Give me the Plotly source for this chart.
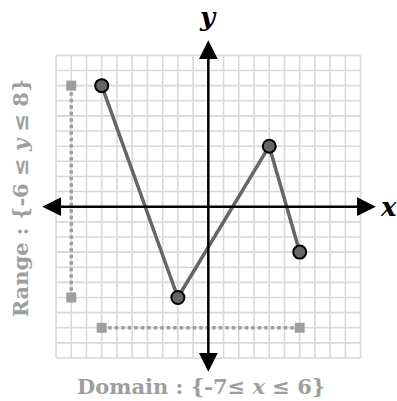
import plotly.graph_objects as go

# data
xs = [-7, -2, 4, 6]
ys = [8, -6, 4, -3]
domain_x = [-7, 6]
domain_y = [-8, -8]
range_x = [-9, -9]
range_y = [8, -6]
grid_vals = list(range(-10, 11))
axis_lim = 11

fig = go.Figure()

# grid
gx, gy = [], []
for v in grid_vals:
    gx += [v, v, None]
    gy += [grid_vals[0], grid_vals[-1], None]
    gx += [grid_vals[0], grid_vals[-1], None]
    gy += [v, v, None]
fig.add_trace(go.Scatter(x=gx, y=gy, mode="lines", line=dict(color="#d9d9d9", width=1.6),
                         hoverinfo="skip", showlegend=False))

guide_col = "#9e9e9e"
# range / domain guides
for gxs, gys in [(range_x, range_y), (domain_x, domain_y)]:
    fig.add_trace(go.Scatter(x=gxs, y=gys, mode="lines",
                             line=dict(color=guide_col, width=3.5, dash="3.5px,3px"),
                             showlegend=False))
    fig.add_trace(go.Scatter(x=gxs, y=gys, mode="markers",
                             marker=dict(symbol="square", size=10, color=guide_col),
                             showlegend=False))

# axes with arrows
for (x0, y0, x1, y1) in [(-axis_lim, 0, axis_lim, 0), (0, -axis_lim, 0, axis_lim)]:
    fig.add_annotation(x=x1, y=y1, ax=x0, ay=y0, xref="x", yref="y", axref="x", ayref="y",
                       showarrow=True, arrowhead=2, arrowside="end+start", arrowsize=1.5,
                       arrowwidth=2.5, arrowcolor="black", text="")

# data line
fig.add_trace(go.Scatter(x=xs, y=ys, mode="lines+markers",
                         line=dict(color="#666666", width=3.5),
                         marker=dict(size=13, color="#666666", line=dict(color="black", width=2)),
                         showlegend=False))

fig.add_annotation(x=0, y=axis_lim, yshift=6, text="<b><i>y</i></b>", showarrow=False,
                   font=dict(family="DejaVu Serif", size=26, color="black"), yanchor="bottom")
fig.add_annotation(x=axis_lim, y=0, xshift=2, text="<b><i>x</i></b>", showarrow=False,
                   font=dict(family="DejaVu Serif", size=26, color="black"), xanchor="left")
fig.add_annotation(x=-12.35, y=0.57, text="<b>Range : {-6 ≤ <i>y</i> ≤ 8}</b>", showarrow=False,
                   textangle=-90, font=dict(family="DejaVu Serif", size=21, color=guide_col))
fig.add_annotation(x=-0.45, y=-11.85, text="<b>Domain : {-7≤ <i>x</i> ≤ 6}</b>", showarrow=False,
                   font=dict(family="DejaVu Serif", size=21, color=guide_col))

fig.update_layout(width=397, height=401, margin=dict(l=0, r=0, t=0, b=0),
                  plot_bgcolor="white", paper_bgcolor="white",
                  xaxis=dict(range=[-13.68, 12.39], visible=False, fixedrange=True),
                  yaxis=dict(range=[-12.84, 13.66], visible=False, fixedrange=True))

fig.write_html("out.html", post_script="document.body.style.margin='0px';",
               config={"displayModeBar": False})
